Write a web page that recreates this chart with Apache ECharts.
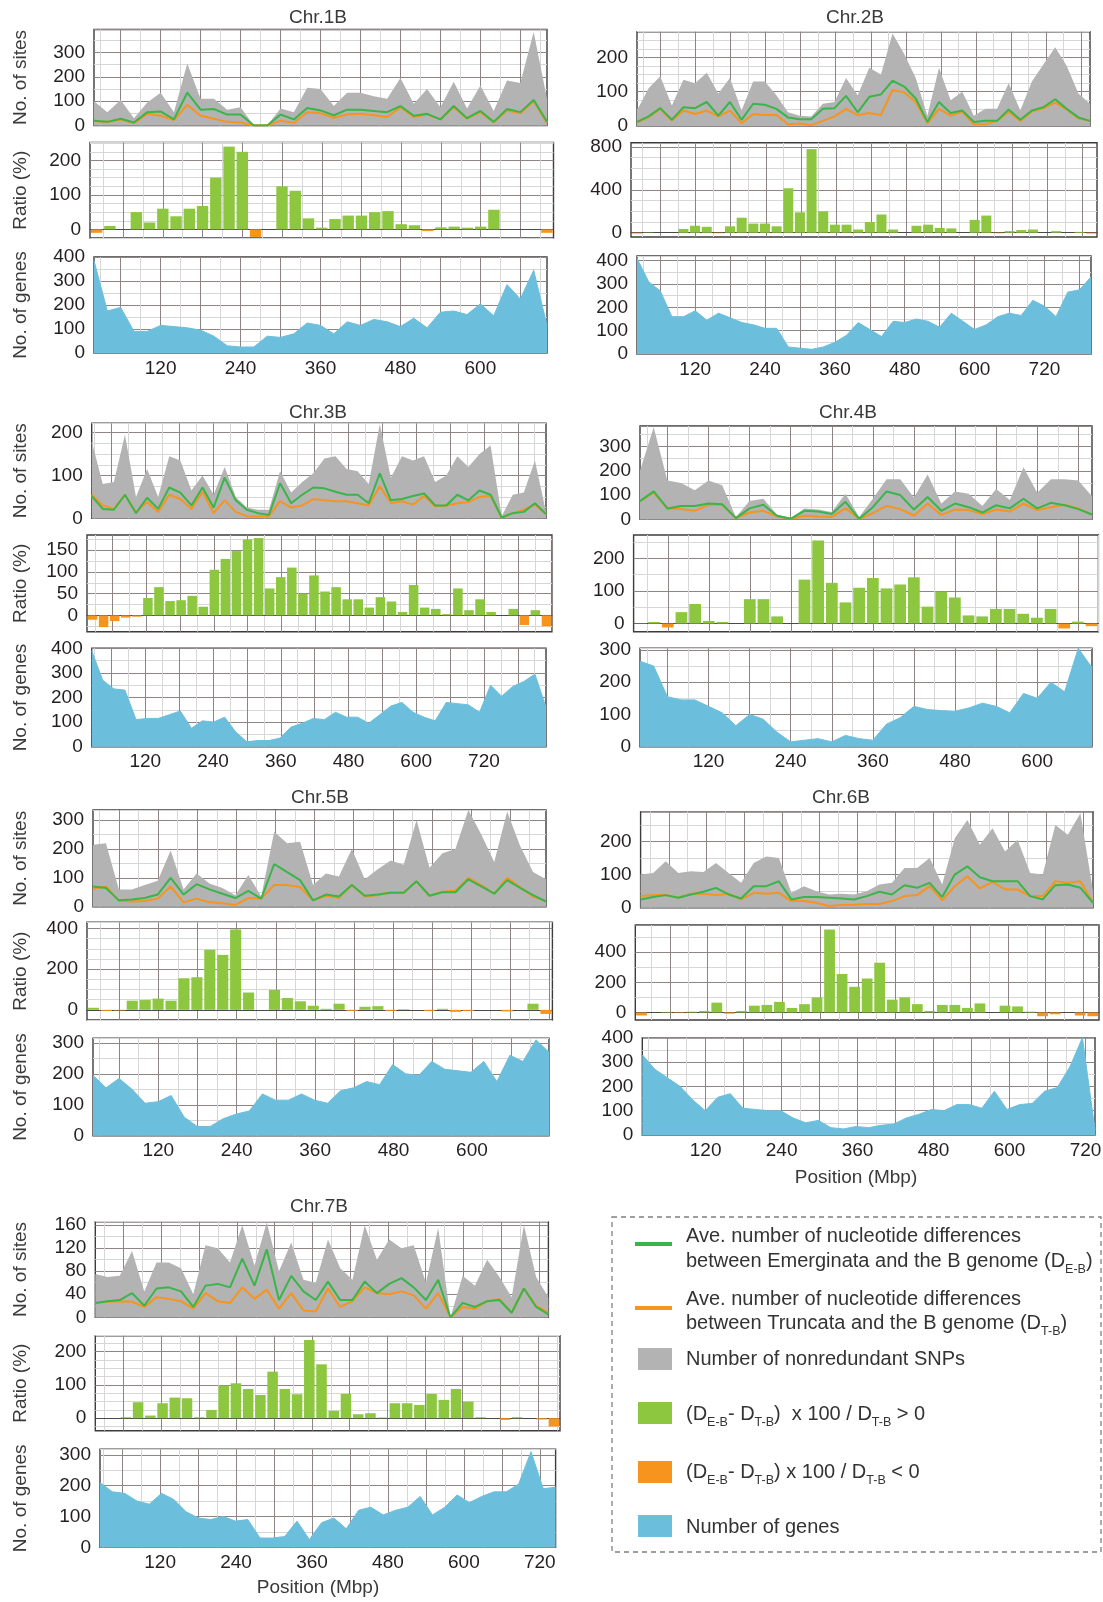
<!DOCTYPE html>
<html><head><meta charset="utf-8">
<script src="https://cdn.jsdelivr.net/npm/echarts@6/dist/echarts.min.js"></script>
<style>html,body{margin:0;padding:0;background:#fff}#c{width:1103px;height:1602px}</style>
</head><body><div id="c"></div>
<script>
// ---------------- DATA ----------------
const X_TICK_LABELS = [120, 240, 360, 480, 600, 720];

const SNP_1B = [100,55,105,30,95,135,55,255,110,110,65,75,0,0,70,55,155,150,80,135,135,120,110,195,90,150,75,180,70,165,60,185,175,385,110];
const DE_1B = [20,15,28,12,55,58,25,135,65,68,45,45,0,0,45,25,72,62,42,65,65,60,55,80,40,48,25,80,30,60,15,68,55,105,15];
const DT_1B = [18,14,25,10,48,40,22,85,40,28,15,12,0,0,20,10,55,50,32,45,48,42,35,75,35,45,25,75,28,55,12,62,50,100,10];
const RATIO_1B = [-10,10,0,50,20,60,38,60,68,150,240,225,-22,0,125,112,32,5,30,40,40,50,53,15,12,-5,6,8,5,8,57,0,0,0,-10];
const GENES_1B = [385,175,190,90,90,115,110,105,95,70,30,25,25,70,65,80,125,115,80,130,115,140,130,110,145,105,170,175,160,205,155,285,225,345,115];

const SNP_2B = [45,110,145,60,135,125,155,95,140,45,130,130,90,40,30,28,65,70,140,90,170,150,270,210,140,30,170,75,100,30,50,50,125,45,130,180,230,175,95,65];
const DE_2B = [12,28,52,18,55,52,70,30,70,18,65,62,50,25,20,20,50,52,88,40,85,92,132,115,80,12,70,38,45,12,15,15,48,18,45,55,78,50,25,15];
const DT_2B = [10,25,50,16,45,35,45,28,45,8,35,32,32,5,7,2.5,15,28,50,32,38,32,105,98,70,8,50,30,42,5,5,15,42,15,42,52,68,48,22,15];
const RATIO_2B = [-8,3,0,0,35,65,55,-5,60,140,85,85,60,415,190,780,200,75,75,30,100,170,30,0,65,75,45,40,0,120,160,-5,15,25,30,0,15,0,8,-8];
const GENES_2B = [410,310,270,160,160,185,145,175,155,135,125,110,110,30,25,20,30,50,80,135,105,75,140,135,150,140,115,175,140,105,125,160,175,165,230,205,160,265,275,330];

const SNP_3B = [180,80,85,195,50,115,50,145,135,65,100,55,120,50,25,20,20,110,60,85,105,140,145,115,110,80,220,95,145,135,145,85,100,145,120,150,170,5,55,60,135,15];
const DE_3B = [52,22,20,55,12,48,22,72,60,30,72,25,95,42,20,12,8,82,35,55,72,70,62,55,55,35,105,42,45,52,58,30,30,55,42,65,55,2,12,15,35,10];
const DT_3B = [55,30,22,55,14,38,15,55,45,22,62,12,42,15,5,4,5,40,25,30,45,42,40,40,35,30,75,35,40,32,52,28,30,35,38,50,52,2,12,20,32,10];
const RATIO_3B = [-10,-27,-13,-5,-3,40,65,33,35,45,20,105,130,148,175,178,62,88,110,50,92,55,65,37,37,18,42,32,8,70,18,15,3,62,12,37,8,0,15,-22,12,-25];
const GENES_3B = [390,270,235,230,110,115,115,130,145,75,105,100,120,60,20,25,25,35,80,95,115,110,140,120,120,95,130,165,180,140,120,105,180,175,170,140,250,205,245,265,295,160];

const SNP_4B = [200,380,160,150,120,160,140,10,75,85,20,5,45,40,30,105,10,85,165,165,90,185,65,115,105,55,125,80,215,110,165,165,160,95];
const DE_4B = [75,115,45,55,55,65,62,5,45,60,15,2,35,32,22,72,2,50,115,100,40,92,35,65,50,28,58,45,85,45,68,58,42,20];
const DT_4B = [75,110,45,42,35,60,60,5,28,35,12,2,15,12,10,45,2,25,55,42,15,65,18,40,38,22,40,32,65,38,50,60,45,18];
const RATIO_4B = [1,5,-12,35,60,8,5,0,75,75,22,0,135,255,125,65,110,140,108,120,142,52,98,80,25,22,45,45,30,18,45,-15,6,-8];
const GENES_4B = [265,250,155,145,145,125,105,65,100,85,45,15,20,25,15,35,25,20,70,90,125,115,112,110,120,135,125,105,165,150,200,170,305,245];

const SNP_5B = [215,220,60,60,75,90,195,60,115,80,65,40,110,35,260,220,225,75,115,105,200,95,130,160,145,300,135,185,200,335,250,155,330,210,120,95];
const DE_5B = [70,65,22,25,30,42,100,42,78,60,45,30,55,28,148,120,92,22,42,35,75,38,42,48,48,88,38,50,50,95,70,45,92,65,40,18];
const DT_5B = [62,70,20,18,20,28,70,15,28,15,12,6,30,28,75,75,68,22,38,30,75,35,40,50,48,88,38,52,55,100,75,45,100,68,35,20];
const RATIO_5B = [10,-5,-3,45,48,55,45,155,160,295,270,395,85,0,98,58,42,20,5,30,-5,15,18,-5,3,0,-5,5,-10,-5,0,0,-8,0,30,-20];
const GENES_5B = [195,155,185,150,105,110,130,60,30,30,55,70,80,135,115,115,135,115,105,145,155,175,165,230,200,195,240,215,210,205,240,175,260,240,310,270];

const SNP_6B = [100,105,140,105,110,108,135,105,75,135,155,150,45,65,50,40,42,40,50,70,75,120,120,150,70,210,265,190,240,170,205,105,100,250,220,285,50];
const DE_6B = [25,32,38,30,40,48,60,40,28,65,65,80,25,32,32,30,28,25,35,48,40,68,60,75,32,100,125,92,80,80,80,35,25,68,70,60,15];
const DT_6B = [35,38,38,30,42,42,38,42,25,45,42,45,20,20,15,5,8,9,11,11,20,35,38,65,22,65,95,58,78,55,55,35,35,80,75,80,15];
const RATIO_6B = [-20,0,3,-3,5,10,65,-8,10,45,50,70,30,55,100,550,255,170,225,330,85,100,55,10,50,50,30,60,0,45,40,5,-25,-12,0,-20,-25];
const GENES_6B = [330,270,235,200,145,100,155,170,110,105,100,100,70,50,60,30,25,35,30,40,45,70,85,105,100,125,125,110,180,105,125,130,180,195,280,400,20];

const SNP_7B = [75,70,72,115,45,95,95,85,40,125,120,95,160,90,165,80,130,65,60,135,85,65,160,100,135,120,125,60,155,0,72,55,100,70,35,160,70,35];
const DE_7B = [25,28,30,42,20,50,52,45,18,55,58,52,102,55,118,30,72,45,30,62,30,30,62,42,58,68,52,30,65,0,25,18,28,30,8,50,18,5];
const DT_7B = [25,27,28,27,18,35,32,28,15,42,28,25,52,32,48,15,42,12,10,50,18,28,52,42,40,45,38,15,42,0,18,15,28,32,8,50,20,8];
const RATIO_7B = [0,0,3,48,8,45,62,60,3,25,98,105,88,70,140,88,72,235,162,22,73,12,15,2,45,45,40,73,55,88,50,3,0,-5,3,0,-4,-25];
const GENES_7B = [210,180,175,150,140,175,155,115,95,90,100,85,90,30,30,35,85,25,80,95,60,120,130,105,120,130,165,105,130,170,145,165,180,180,205,310,190,195];

const CHROM_NAMES = ['Chr.1B','Chr.2B','Chr.3B','Chr.4B','Chr.5B','Chr.6B','Chr.7B'];
const CHROM_DATA = [
  [SNP_1B, DE_1B, DT_1B, RATIO_1B, GENES_1B],
  [SNP_2B, DE_2B, DT_2B, RATIO_2B, GENES_2B],
  [SNP_3B, DE_3B, DT_3B, RATIO_3B, GENES_3B],
  [SNP_4B, DE_4B, DT_4B, RATIO_4B, GENES_4B],
  [SNP_5B, DE_5B, DT_5B, RATIO_5B, GENES_5B],
  [SNP_6B, DE_6B, DT_6B, RATIO_6B, GENES_6B],
  [SNP_7B, DE_7B, DT_7B, RATIO_7B, GENES_7B]
];

// ---------------- LAYOUT / STYLE ----------------
const FONT = '"Liberation Sans", Arial, sans-serif';
const C = { snp:'#b3b3b3', de:'#39b54a', dt:'#f7941d', pos:'#8dc63f', neg:'#f7941d', genes:'#6cbfdc',
            text:'#231f20', title:'#3a3a3a', major:'#8e8484', minor:'#d6d6d6', border:'#3c3c3c', none:'rgba(0,0,0,0)' };
// y: [min, max, step, minorEvery, majorEvery, labelEvery]
const LAYOUT = [
 { title:[318,18], ytitle:true,
   top:{l:94,r:547,t:29.5,b:125.5,x:[20,700],y:[0,395,50,50,100,100]},
   ratio:{l:90,r:553.5,t:142.5,b:238,x:[10,710],y:[-25,252,25,25,100,100]},
   genes:{l:94,r:547,t:257,b:353,x:[20,700],y:[0,400,50,50,100,100]} },
 { title:[855,18],
   top:{l:637,r:1090,t:31.7,b:126,x:[20,795],y:[0,275,25,25,100,100]},
   ratio:{l:631,r:1097,t:142.7,b:237,x:[10,805],y:[-40,840,20,100,400,400]},
   genes:{l:637,r:1091,t:256,b:354,x:[20,800],y:[0,420,50,50,100,100]} },
 { title:[318,413], ytitle:true,
   top:{l:91.7,r:546,t:423.3,b:518.3,x:[25,830],y:[0,222,25,25,100,100]},
   ratio:{l:87,r:552,t:535,b:631.7,x:[15,840],y:[-37.5,185,12.5,25,50,50]},
   genes:{l:91.7,r:546,t:648.3,b:746.7,x:[25,830],y:[0,400,50,50,100,100]} },
 { title:[848,413],
   top:{l:640,r:1092,t:426,b:519.3,x:[20,680],y:[0,385,50,50,100,100]},
   ratio:{l:633.6,r:1098.4,t:535,b:631.7,x:[10,690],y:[-25,272,25,50,100,100]},
   genes:{l:640,r:1092,t:648.3,b:746.7,x:[20,680],y:[0,305,50,50,100,100]} },
 { title:[320,798], ytitle:true,
   top:{l:93,r:546,t:810,b:906.7,x:[20,715],y:[0,335,50,50,100,100]},
   ratio:{l:87,r:552.4,t:922.3,b:1020,x:[10,725],y:[-50,430,50,50,200,200]},
   genes:{l:93,r:549,t:1038.3,b:1135.7,x:[20,718],y:[0,315,50,50,100,100]} },
 { title:[841,798], xtitle:[856,1178],
   top:{l:640.6,r:1093,t:811.7,b:907.7,x:[15,735],y:[0,290,50,50,100,100]},
   ratio:{l:635.3,r:1099,t:925,b:1020,x:[5,745],y:[-50,580,50,100,200,200]},
   genes:{l:642.3,r:1095,t:1037.7,b:1135,x:[20,735],y:[0,400,50,50,100,100]} },
 { title:[319,1207], ytitle:true, xtitle:[318,1588],
   top:{l:95.3,r:548.4,t:1221.7,b:1317.3,x:[15,735],y:[0,166,20,20,40,40]},
   ratio:{l:95.3,r:560,t:1335.7,b:1430.7,x:[15,755],y:[-37.5,248,12.5,25,100,100]},
   genes:{l:100,r:555.6,t:1449.3,b:1547.3,x:[25,745],y:[0,318,50,50,100,100]} }
];

const isMult = (v, m) => Math.abs(v / m - Math.round(v / m)) < 1e-6;
function gridColors(min, step, minor, major) {
  const n = Math.round(major / step), arr = [];
  for (let i = 0; i < n; i++) {
    const v = min + i * step;
    arr.push(isMult(v, major) ? C.major : (isMult(v, minor) ? C.minor : C.none));
  }
  return arr;
}

const grids = [], xAxes = [], yAxes = [], series = [], graphics = [];
const X_STEP = 5;

function addPanel(p, kind) {
  const gi = grids.length;
  grids.push({ left:p.l, top:p.t, width:p.r - p.l, height:p.b - p.t, show:true,
    borderColor:C.border, borderWidth:1.4, backgroundColor:C.none, containLabel:false, outerBoundsMode:'none' });
  xAxes.push({ type:'value', gridIndex:gi, min:p.x[0], max:p.x[1], interval:X_STEP,
    axisLine:{ show: kind === 'ratio', onZero:true, lineStyle:{ color:'#4a4a4a', width:1.2 } },
    axisTick:{ show:false },
    axisLabel:{ show: kind === 'genes', margin:6, fontSize:19, fontFamily:FONT, color:C.text,
      formatter: v => X_TICK_LABELS.includes(v) ? String(v) : '' },
    splitLine:{ show:true, lineStyle:{ width:1, color: gridColors(p.x[0], X_STEP, 30, 60) } } });
  const [ymin, ymax, step, minor, major, lab] = p.y;
  yAxes.push({ type:'value', gridIndex:gi, min:ymin, max:ymax, interval:step,
    axisLine:{ show:false }, axisTick:{ show:false },
    axisLabel:{ show:true, margin:9, fontSize:19, fontFamily:FONT, color:C.text,
      formatter: v => isMult(v, lab) ? String(Math.round(v)) : '' },
    splitLine:{ show:true, lineStyle:{ width:1, color: gridColors(ymin, step, minor, major) } } });
  return gi;
}
const linePts = (arr, x) => arr.map((v, i) => [x[0] + i * (x[1] - x[0]) / (arr.length - 1), v]);

LAYOUT.forEach((L, k) => {
  const [snp, de, dt, ratio, genes] = CHROM_DATA[k];
  const g0 = addPanel(L.top, 'top'), g1 = addPanel(L.ratio, 'ratio'), g2 = addPanel(L.genes, 'genes');
  series.push({ type:'line', xAxisIndex:g0, yAxisIndex:g0, data:linePts(snp, L.top.x), symbol:'none', silent:true, z:2,
    lineStyle:{ width:0 }, areaStyle:{ color:C.snp, opacity:1 } });
  series.push({ type:'line', xAxisIndex:g0, yAxisIndex:g0, data:linePts(dt, L.top.x), symbol:'none', silent:true, z:3,
    lineStyle:{ width:2, color:C.dt } });
  series.push({ type:'line', xAxisIndex:g0, yAxisIndex:g0, data:linePts(de, L.top.x), symbol:'none', silent:true, z:4,
    lineStyle:{ width:2, color:C.de } });
  const rx = L.ratio.x, n = ratio.length, w = (rx[1] - rx[0]) / n;
  series.push({ type:'bar', xAxisIndex:g1, yAxisIndex:g1, silent:true, barWidth:'86%', z:3,
    data: ratio.map((v, i) => ({ value:[rx[0] + (i + 0.5) * w, v], itemStyle:{ color: v >= 0 ? C.pos : C.neg } })) });
  series.push({ type:'line', xAxisIndex:g2, yAxisIndex:g2, data:linePts(genes, L.genes.x), symbol:'none', silent:true, z:2,
    lineStyle:{ width:1, color:C.genes }, areaStyle:{ color:C.genes, opacity:1 } });

  graphics.push({ type:'text', x:L.title[0], y:L.title[1], style:{ text:CHROM_NAMES[k], fill:C.title,
    font:'normal 400 19px ' + FONT, align:'center', verticalAlign:'middle' } });
  if (L.ytitle) {
    [['No. of sites', L.top], ['Ratio (%)', L.ratio], ['No. of genes', L.genes]].forEach(([t, p]) => {
      graphics.push({ type:'text', x:21, y:(p.t + p.b) / 2, rotation:Math.PI / 2,
        style:{ text:t, fill:C.title, font:'normal 400 19px ' + FONT, align:'center', verticalAlign:'middle' } });
    });
  }
  if (L.xtitle) {
    graphics.push({ type:'text', x:L.xtitle[0], y:L.xtitle[1], style:{ text:'Position (Mbp)', fill:C.title,
      font:'normal 400 19px ' + FONT, align:'center', verticalAlign:'middle' } });
  }
});

// ---------------- LEGEND ----------------
const RICH = {
  n:{ fontSize:20, fontFamily:FONT, fill:'#333', lineHeight:30, verticalAlign:'middle' },
  s:{ fontSize:12.5, fontFamily:FONT, fill:'#333', lineHeight:11, verticalAlign:'bottom' }
};
function legText(y, txt) {
  graphics.push({ type:'text', x:686, y:y, style:{ text:txt, rich:RICH, align:'left', verticalAlign:'middle',
    font:'20px ' + FONT, fill:'#333' } });
}
graphics.push({ type:'rect', shape:{ x:612, y:1217, width:489, height:335 },
  style:{ fill:'none', stroke:'#808080', lineWidth:1.3, lineDash:[5, 4] } });
graphics.push({ type:'line', shape:{ x1:635, y1:1244, x2:672, y2:1244 }, style:{ stroke:C.de, lineWidth:4 } });
legText(1236, '{n|Ave. number of nucleotide differences}');
legText(1261, '{n|between Emerginata and the B genome (D}{s|E-B}{n|)}');
graphics.push({ type:'line', shape:{ x1:635, y1:1308, x2:672, y2:1308 }, style:{ stroke:C.dt, lineWidth:4 } });
legText(1299, '{n|Ave. number of nucleotide differences}');
legText(1323, '{n|between Truncata and the B genome (D}{s|T-B}{n|)}');
graphics.push({ type:'rect', shape:{ x:638, y:1348, width:34, height:22 }, style:{ fill:C.snp } });
legText(1359, '{n|Number of nonredundant SNPs}');
graphics.push({ type:'rect', shape:{ x:638, y:1402, width:34, height:22 }, style:{ fill:C.pos } });
legText(1414, '{n|(D}{s|E-B}{n|- D}{s|T-B}{n|)  x 100 / D}{s|T-B}{n| > 0}');
graphics.push({ type:'rect', shape:{ x:638, y:1461, width:34, height:22 }, style:{ fill:C.neg } });
legText(1472, '{n|(D}{s|E-B}{n|- D}{s|T-B}{n|) x 100 / D}{s|T-B}{n| < 0}');
graphics.push({ type:'rect', shape:{ x:638, y:1515, width:34, height:22 }, style:{ fill:C.genes } });
legText(1527, '{n|Number of genes}');

const chart = echarts.init(document.getElementById('c'), null, { renderer:'canvas' });
chart.setOption({
  backgroundColor:'#ffffff', animation:false, textStyle:{ fontFamily:FONT },
  grid:grids, xAxis:xAxes, yAxis:yAxes, series:series, graphic:graphics
});
</script></body></html>
